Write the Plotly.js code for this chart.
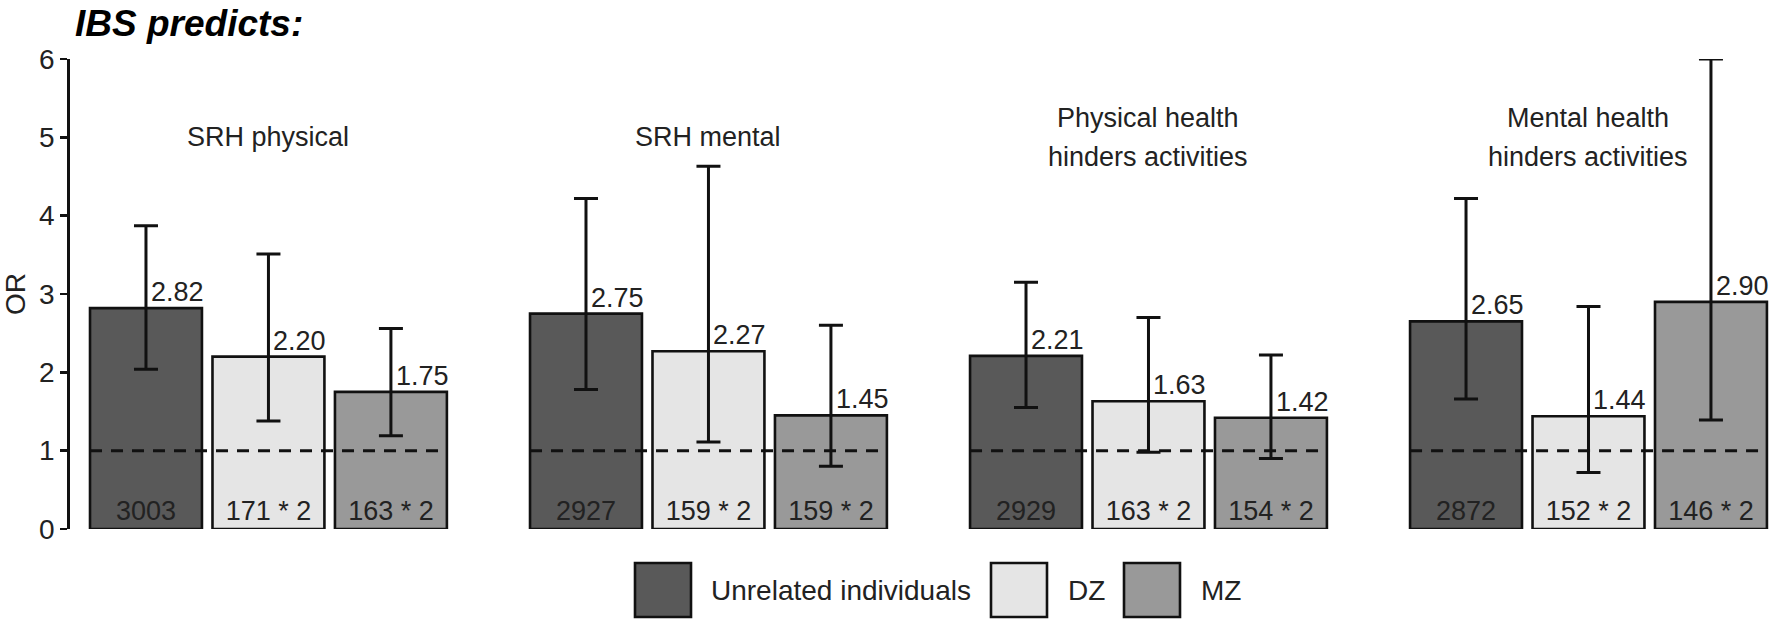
<!DOCTYPE html>
<html>
<head>
<meta charset="utf-8">
<script src="https://cdn.plot.ly/plotly-3.0.1.min.js"></script>
<style>html,body{margin:0;padding:0;background:#fff;}#chart{width:1770px;height:619px;}</style>
</head>
<body>
<div id="chart"></div>
<script>
// ---- data ----
var categories = ['SRH physical', 'SRH mental', 'Physical health<br>hinders activities', 'Mental health<br>hinders activities'];
var seriesNames = ['Unrelated individuals', 'DZ', 'MZ'];
var orUnrelated = [2.82, 2.75, 2.21, 2.65];
var orDZ = [2.20, 2.27, 1.63, 1.44];
var orMZ = [1.75, 1.45, 1.42, 2.90];
var loUnrelated = [2.04, 1.78, 1.55, 1.66];
var hiUnrelated = [3.87, 4.22, 3.15, 4.22];
var loDZ = [1.38, 1.11, 0.98, 0.72];
var hiDZ = [3.51, 4.63, 2.70, 2.84];
var loMZ = [1.19, 0.80, 0.90, 1.39];
var hiMZ = [2.56, 2.60, 2.22, 6.00];
var nUnrelated = ['3003', '2927', '2929', '2872'];
var nDZ = ['171 * 2', '159 * 2', '163 * 2', '152 * 2'];
var nMZ = ['163 * 2', '159 * 2', '154 * 2', '146 * 2'];
var yTicks = [0, 1, 2, 3, 4, 5, 6];
var refLine = 1;

// ---- style ----
var FONT = '"Liberation Sans", Arial, Helvetica, sans-serif';
var TXT = '#222222';
var colors = ['#595959', '#e5e5e5', '#999999'];
var W = 1770, H = 619;
var mL = 70, mR = 0, mT = 59, mB = 90;
var bargap = 0.165, bargroupgap = 0.086;

var ors = [orUnrelated, orDZ, orMZ];
var los = [loUnrelated, loDZ, loMZ];
var his = [hiUnrelated, hiDZ, hiMZ];
var ns = [nUnrelated, nDZ, nMZ];
var xIdx = categories.map(function (c, i) { return i; });

var traces = ors.map(function (vals, s) {
  return {
    type: 'bar',
    name: seriesNames[s],
    x: xIdx,
    y: vals,
    marker: { color: colors[s], line: { color: '#111', width: 2.6 } },
    text: ns[s],
    textposition: 'inside',
    insidetextanchor: 'start',
    textangle: 0,
    constraintext: 'none',
    insidetextfont: { family: FONT, size: 27, color: TXT },
    error_y: {
      type: 'data', symmetric: false,
      array: vals.map(function (v, i) { return his[s][i] - v; }),
      arrayminus: vals.map(function (v, i) { return v - los[s][i]; }),
      color: '#111', thickness: 3, width: 12
    },
    hoverinfo: 'skip',
    showlegend: false
  };
});

var slot = (1 - bargap) / 3;
var groupHalf = 1.5 * slot - slot * bargroupgap / 2;
var annotations = [];
var shapes = [];

// value labels
ors.forEach(function (vals, s) {
  vals.forEach(function (v, i) {
    annotations.push({
      xref: 'x', yref: 'y', x: i + (s - 1) * slot, y: v,
      text: v.toFixed(2), showarrow: false,
      xanchor: 'left', yanchor: 'bottom', xshift: 3, yshift: -1,
      font: { family: FONT, size: 27, color: TXT }
    });
  });
});

// group titles
categories.forEach(function (c, i) {
  var lines = c.split('<br>');
  lines.forEach(function (ln, k) {
    annotations.push({
      xref: 'x', yref: 'y', x: i, y: 5,
      text: ln, showarrow: false, xanchor: 'center', yanchor: 'middle',
      yshift: -(k - (lines.length - 1) / 2) * 39,
      font: { family: FONT, size: 27, color: TXT }
    });
  });
  shapes.push({
    type: 'line', xref: 'x', yref: 'y',
    x0: i - groupHalf, x1: i + groupHalf, y0: refLine, y1: refLine,
    line: { color: '#111', width: 3, dash: '12px,9px' }, layer: 'above'
  });
});

// legend (manual, large keys)
var plotW = W - mL - mR, plotH = H - mT - mB;
function px2paperX(px) { return (px - mL) / plotW; }
function px2paperY(py) { return (H - mB - py) / plotH; }
var legendBoxes = [635, 991, 1124];
var legendTextX = [709, 1066, 1199];
seriesNames.forEach(function (nm, s) {
  shapes.push({
    type: 'rect', xref: 'paper', yref: 'paper',
    x0: px2paperX(legendBoxes[s]), x1: px2paperX(legendBoxes[s] + 56),
    y0: px2paperY(617), y1: px2paperY(563),
    fillcolor: colors[s], line: { color: '#111', width: 2.6 }
  });
  annotations.push({
    xref: 'paper', yref: 'paper', x: px2paperX(legendTextX[s]), y: px2paperY(590),
    text: nm, showarrow: false, xanchor: 'left', yanchor: 'middle',
    font: { family: FONT, size: 28, color: TXT }
  });
});

var layout = {
  width: W, height: H,
  margin: { l: mL, r: mR, t: mT, b: mB, pad: 0 },
  paper_bgcolor: '#fff', plot_bgcolor: '#fff',
  font: { family: FONT, color: TXT },
  title: {
    text: '<b><i>IBS predicts:</i></b>',
    font: { family: FONT, size: 37, color: '#000' },
    xref: 'container', yref: 'container',
    x: 75 / W, xanchor: 'left', y: 1 - 23 / H, yanchor: 'middle'
  },
  barmode: 'group', bargap: bargap, bargroupgap: bargroupgap,
  xaxis: {
    type: 'linear', range: [-0.451, 3.4125],
    showticklabels: false, ticks: '', showline: false, showgrid: false, zeroline: false
  },
  yaxis: {
    range: [0, 6], tickvals: yTicks, ticktext: yTicks.map(String),
    ticks: 'outside', ticklen: 7, tickwidth: 2.8, tickcolor: '#111',
    showline: true, linewidth: 2.8, linecolor: '#111',
    showgrid: false, zeroline: false,
    tickfont: { family: FONT, size: 28, color: TXT },
    title: { text: 'OR', font: { family: FONT, size: 28, color: TXT }, standoff: 18 },
    automargin: false
  },
  annotations: annotations,
  shapes: shapes,
  showlegend: false
};

Plotly.newPlot('chart', traces, layout, { displayModeBar: false, staticPlot: true });
</script>
</body>
</html>
